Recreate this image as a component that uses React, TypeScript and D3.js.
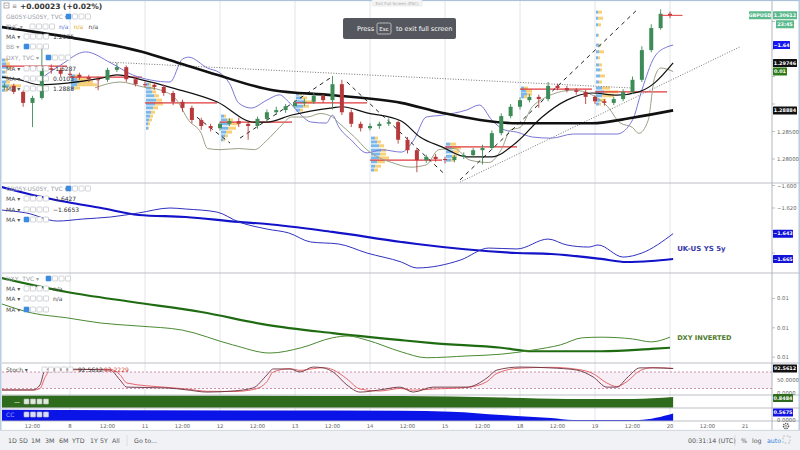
// GBPUSD 3h candles with yield-spread / DXY overlays, stacked indicator panes.
// JSX SVG, d3 only for scales + line/area generators. Layout numbers are panel
// rectangles; all marks go through the scales.
import * as d3 from "d3";

// ---------- price candles (3h bars, hour = 3 + 3*i from day-7 00:00) ----------
const firstOpen = 1.293;
const candleClose = [
  1.2933, 1.2922, 1.2902, 1.2911, 1.2965, 1.2962, 1.2955, 1.2953, 1.2949, 1.2945,
  1.2944, 1.2962, 1.2967, 1.2945, 1.2936, 1.2935, 1.2931, 1.292, 1.2904, 1.2893,
  1.2871, 1.286, 1.2856, 1.2864, 1.2869, 1.2864, 1.286, 1.2873, 1.2885, 1.2889,
  1.2896, 1.2902, 1.2904, 1.2915, 1.2907, 1.2936, 1.2885, 1.2864, 1.2856, 1.286,
  1.2864, 1.2867, 1.2835, 1.2816, 1.2798, 1.2804, 1.28, 1.2798, 1.2804, 1.2807,
  1.2816, 1.282, 1.2847, 1.2878, 1.2895, 1.2907, 1.2913, 1.2909, 1.2933, 1.2929,
  1.2925, 1.2922, 1.2913, 1.2905, 1.2902, 1.2909, 1.2922, 1.2944, 1.2998, 1.3038,
  1.3064, 1.30612,
];
const candleHigh = [
  1.2938, 1.2937, 1.2925, 1.2915, 1.3002, 1.2972, 1.2966, 1.296, 1.2957, 1.2953,
  1.295, 1.2966, 1.2975, 1.297, 1.2949, 1.2941, 1.2939, 1.2935, 1.2924, 1.2908,
  1.2897, 1.2875, 1.2864, 1.2868, 1.2874, 1.2875, 1.2868, 1.2877, 1.289, 1.2895,
  1.29, 1.2907, 1.291, 1.292, 1.2918, 1.2951, 1.2944, 1.289, 1.2868, 1.2865,
  1.2868, 1.2874, 1.287, 1.284, 1.282, 1.2808, 1.2809, 1.2804, 1.2808, 1.2812,
  1.282, 1.2826, 1.2852, 1.2883, 1.29, 1.2912, 1.2918, 1.2917, 1.294, 1.2937,
  1.2933, 1.2929, 1.2926, 1.2916, 1.2909, 1.2913, 1.2927, 1.295, 1.3005, 1.3045,
  1.3072, 1.3068,
];
const candleLow = [
  1.2926, 1.2918, 1.2895, 1.2858, 1.2908, 1.2955, 1.295, 1.2948, 1.2944, 1.294,
  1.2925, 1.294, 1.2958, 1.294, 1.2932, 1.293, 1.2926, 1.2915, 1.2898, 1.2886,
  1.2865, 1.2853, 1.285, 1.2852, 1.286, 1.2858, 1.2835, 1.2855, 1.287, 1.288,
  1.2884, 1.2892, 1.2896, 1.29, 1.2902, 1.289, 1.288, 1.2858, 1.285, 1.2852,
  1.2855, 1.286, 1.2828, 1.281, 1.2776, 1.2793, 1.2795, 1.2792, 1.2794, 1.28,
  1.2803, 1.279, 1.2817, 1.2843, 1.2874, 1.289, 1.2903, 1.2893, 1.2905, 1.2925,
  1.2921, 1.2917, 1.29, 1.29, 1.2897, 1.2898, 1.2905, 1.2918, 1.294, 1.2994,
  1.3035, 1.3056,
];

// ---------- moving averages on price ----------
const maSlowHours = [2, 23, 47, 58, 71, 89, 108, 130, 143, 167, 191, 204, 217];
const maSlowVals = [1.304, 1.3022, 1.2995, 1.2976, 1.2953, 1.2925, 1.2916, 1.2902, 1.2884, 1.2865, 1.2865, 1.2875, 1.28884];
const maFastHours = [2, 8, 14, 23, 34, 39, 47, 57, 71, 83, 87, 95, 108, 111, 119, 130, 136, 143, 151, 159, 167, 175, 183, 191, 199, 206, 211, 217];
const maFastVals = [
  1.2949, 1.2944, 1.2935, 1.2938, 1.2947, 1.2953, 1.2944, 1.2929, 1.2904, 1.2867,
  1.2867, 1.288, 1.2893, 1.2895, 1.2884, 1.2869, 1.284, 1.2822, 1.2804, 1.2804,
  1.2831, 1.2876, 1.2907, 1.292, 1.2916, 1.2922, 1.2938, 1.29746,
];

// ---------- overlays on the price pane (own scales) ----------
const spreadOvHours = [14, 21, 29, 37, 44, 50, 56, 60, 62, 68, 72, 75, 78, 82, 87, 91, 94, 98, 101, 106, 108, 110, 114, 119, 124, 130, 134, 138, 143, 151, 155, 159, 163, 167, 172, 178, 185, 199, 204, 207, 211, 215, 217];
const spreadOvVals = [
  -1.6527, -1.6487, -1.6452, -1.6481, -1.6513, -1.6527, -1.6532, -1.6471, -1.6466, -1.6495,
  -1.6508, -1.6535, -1.6588, -1.6601, -1.658, -1.6566, -1.6585, -1.662, -1.6638, -1.6641,
  -1.662, -1.6651, -1.6686, -1.672, -1.6712, -1.6718, -1.6686, -1.6625, -1.662, -1.6606,
  -1.6593, -1.6633, -1.6659, -1.6665, -1.6678, -1.6681, -1.667, -1.667, -1.6633, -1.6553,
  -1.6466, -1.6439, -1.6434,
];
const dxyOvHours = [32, 40, 47, 53, 58, 62, 66, 68, 72, 78, 83, 87, 91, 95, 100, 104, 108, 110, 115, 119, 123, 127, 133, 138, 142, 147, 152, 158, 162, 165, 168, 172, 175, 180, 185, 191, 196, 200, 204, 206, 209, 211, 213, 217];
const dxyOvVals = [
  96.81, 96.76, 96.8, 96.83, 96.91, 97.09, 97.2, 97.33, 97.34, 97.33,
  97.34, 97.26, 97.15, 97.06, 97.06, 97.03, 97.06, 97.11, 97.23, 97.34,
  97.41, 97.45, 97.49, 97.47, 97.34, 97.33, 97.43, 97.45, 97.34, 97.17,
  97.15, 96.97, 96.91, 96.85, 96.83, 96.87, 96.97, 97.11, 97.15, 97.2,
  97.09, 96.73, 96.64, 96.67,
];

// ---------- session volume profiles: [price, buy vol, sell vol] ----------
const profileStartHours = [0, 24, 48, 72, 96, 120, 144, 168, 192];
const profileRows: number[][][] = [
  [[1.298, 9, 3], [1.2973, 10, 4], [1.2967, 12, 5], [1.2958, 9, 2], [1.2949, 10, 2], [1.294, 10, 4], [1.2933, 13, 12], [1.2925, 9, 3]],
  [[1.2951, 4, 6], [1.2945, 6, 10], [1.294, 8, 14], [1.2935, 6, 20], [1.2929, 3, 6]],
  [[1.2936, 3, 2], [1.2929, 5, 3], [1.2922, 6, 4], [1.2915, 8, 5], [1.2907, 10, 6], [1.29, 9, 8], [1.2893, 7, 5], [1.2885, 5, 4], [1.2878, 4, 3], [1.2871, 3, 3], [1.2864, 2, 2], [1.2856, 2, 1]],
  [[1.2878, 3, 2], [1.2871, 6, 6], [1.2864, 8, 10], [1.2856, 7, 8], [1.2849, 5, 6], [1.2842, 4, 3], [1.2835, 2, 2]],
  [[1.2918, 3, 3], [1.2911, 6, 5], [1.2904, 8, 8], [1.2896, 7, 6], [1.2889, 4, 3]],
  [[1.2838, 4, 3], [1.2831, 6, 4], [1.2824, 8, 5], [1.2816, 10, 5], [1.2809, 9, 6], [1.2802, 8, 10], [1.2795, 6, 8], [1.2787, 4, 6], [1.278, 3, 4]],
  [[1.2827, 4, 6], [1.282, 6, 9], [1.2813, 7, 6], [1.2805, 6, 5], [1.2798, 5, 4]],
  [[1.2929, 3, 4], [1.2924, 5, 6], [1.2918, 6, 5], [1.2913, 3, 3]],
  [[1.3067, 2, 4], [1.3056, 2, 5], [1.3044, 2, 3], [1.3025, 2, 1], [1.3007, 3, 2], [1.2995, 3, 5], [1.2984, 2, 2], [1.2971, 3, 3], [1.2962, 4, 2], [1.2951, 4, 5], [1.294, 3, 3], [1.2929, 6, 8], [1.2922, 8, 14], [1.2915, 6, 12], [1.2907, 4, 6], [1.29, 3, 2]],
];
const pocPrices = [1.2969, 1.2949, 1.2902, 1.2867, 1.2902, 1.2798, 1.2822, 1.2927, 1.2922];

// drawn trend lines: [hour1, price1, hour2, price2]
const dashedTrends = [
  [64.6, 1.2876, 75.2, 1.2829],
  [78.4, 1.2838, 107.2, 1.2947],
  [112.6, 1.294, 143.4, 1.2775],
  [148.8, 1.2762, 205.4, 1.3071],
];
const dottedTrends = [
  [36.8, 1.2976, 204.2, 1.2929],
  [148.8, 1.2758, 238.4, 1.3004],
];
const priceTicks = [1.28, 1.285, 1.29, 1.295, 1.3, 1.305];

// ---------- GB05Y-US05Y pane ----------
const spreadMaHours = [2, 12, 23, 34, 46, 61, 78, 87, 108, 130, 135, 167, 178, 194, 202, 210, 217];
const spreadMaVals = [-1.6013, -1.6084, -1.6147, -1.62, -1.6262, -1.628, -1.6324, -1.6342, -1.6413, -1.6502, -1.652, -1.66, -1.6609, -1.6653, -1.668, -1.6671, -1.6653];
const spreadHours = [2, 10, 20, 28, 37, 46, 56, 61, 71, 78, 87, 94, 101, 110, 119, 130, 135, 149, 158, 167, 177, 183, 190, 193, 201, 207, 217];
const spreadVals = [
  -1.6218, -1.6244, -1.6316, -1.6298, -1.628, -1.6244, -1.62, -1.6209, -1.6236, -1.6324,
  -1.6387, -1.6422, -1.6502, -1.652, -1.66, -1.668, -1.6733, -1.6662, -1.6556, -1.6564,
  -1.6476, -1.6529, -1.6547, -1.6529, -1.6636, -1.66, -1.6428,
];
const spreadTicks = [-1.6, -1.62, -1.64, -1.66];

// ---------- DXY (inverted) pane ----------
const dxyMaHours = [2, 23, 44, 66, 87, 108, 130, 140, 162, 172, 194, 210, 216];
const dxyMaVals = [96.05, 96.29, 96.46, 96.63, 96.85, 96.99, 97.11, 97.16, 97.24, 97.3, 97.3, 97.26, 97.24];
const dxyHours = [2, 12, 23, 34, 46, 60, 76, 88, 98, 108, 113, 119, 130, 138, 151, 162, 172, 181, 188, 194, 204, 210, 216];
const dxyVals = [96.49, 96.65, 96.73, 96.82, 96.87, 96.94, 97.19, 97.33, 97.24, 97.07, 97.04, 97.11, 97.31, 97.41, 97.38, 97.35, 97.28, 97.19, 97.07, 97.06, 97.09, 97.14, 97.06];
const dxyTicks = [96.4, 96.9, 97.4];

// ---------- stochastic ----------
const stochHours = [1.6, 12.2, 14.4, 16, 17.6, 36.8, 40, 42.2, 55, 61.4, 67.8, 76.2, 82.6, 87, 89, 94.4, 97.6, 101.8, 105, 108.2, 112.6, 116.8, 123.2, 129.6, 133.8, 140.2, 151, 157.4, 160.6, 168, 177.6, 186.2, 191.4, 195.8, 199, 202.2, 206.4, 210.6, 217];
const stochK = [14, 15, 33, 87, 91, 87, 51, 25, 22, 15, 7, 11, 22, 69, 91, 91, 80, 98, 95, 80, 33, 7, 15, 25, 7, 25, 25, 58, 87, 98, 95, 87, 62, 25, 25, 58, 95, 95, 92.5612];
const stochD = [16, 14, 20, 60, 84, 90, 70, 40, 24, 18, 10, 9, 16, 45, 80, 92, 86, 92, 96, 88, 55, 18, 11, 20, 14, 18, 24, 45, 75, 94, 97, 90, 74, 40, 27, 45, 85, 96, 93.2229];

// ---------- bottom correlation strips ----------
const corrAHours = [2, 130, 162, 183, 204, 217];
const corrAVals = [0.97, 0.92, 0.8, 0.7, 0.7, 0.8484];
const corrBHours = [2, 87, 130, 146, 162, 178, 185, 206, 217];
const corrBVals = [0.86, 0.8, 0.78, 0.72, 0.46, 0.23, 0.08, 0.08, 0.5675];

// ---------- time axis ----------
const dayLabels = ["8", "11", "12", "13", "14", "15", "18", "19", "20", "21"];
const rangeButtons = ["1D", "5D", "1M", "3M", "6M", "YTD", "1Y", "5Y", "All"];

type Pt = [number, number];
const zip = (h: number[], v: number[]): Pt[] => h.map((t, i) => [t, v[i]]);
const last = (a: number[]) => a[a.length - 1];

const FONT = "'DejaVu Sans', 'Liberation Sans', sans-serif";
const PL = 2;
const PR = 772;
const UP = "#3d8b57";
const DOWN = "#b8393b";

function Icons({ x, y, n = 4, blue = false, light = false }: { x: number; y: number; n?: number; blue?: boolean; light?: boolean }) {
  return (
    <g>
      {d3.range(n).map((k) => (
        <rect
          key={k}
          x={x + k * 6.5}
          y={y - 5}
          width={5}
          height={5}
          rx={0.6}
          fill={k === 0 && blue ? "#3c8be0" : light ? "rgba(255,255,255,0.85)" : "#fff"}
          stroke={k === 0 && blue ? "#3c8be0" : "#b5b9c0"}
          strokeWidth={0.6}
        />
      ))}
    </g>
  );
}

function LegendRow({ y, label, iconX, blue, vals = [], color = "#555" }: { y: number; label: string; iconX: number; blue?: boolean; vals?: [string, string][]; color?: string }) {
  let vx = iconX + 4 * 6.5 + 3;
  return (
    <g fontFamily={FONT} fontSize={6}>
      <text x={6} y={y} fill={color}>{label}</text>
      <Icons x={iconX} y={y} blue={blue} />
      {vals.map(([t, c], i) => {
        const tx = vx;
        vx += t.length * 3.6 + 4;
        return (
          <text key={i} x={tx} y={y} fill={c}>{t}</text>
        );
      })}
    </g>
  );
}

function Badge({ x, y, w, text, fill }: { x: number; y: number; w: number; text: string; fill: string }) {
  return (
    <g>
      <rect x={x} y={y - 4} width={w} height={8} fill={fill} rx={0.5} />
      <text x={x + w / 2} y={y + 1.8} textAnchor="middle" fontSize={4.9} fontWeight="bold" fill="#fff" fontFamily={FONT}>{text}</text>
    </g>
  );
}

export default function App() {
  const x = d3.scaleLinear().domain([0, 240]).range([-5, 745]);
  const yPrice = d3.scaleLinear().domain([1.275, 1.3]).range([186.5, 49]);
  const ySpreadOv = d3.scaleLinear().domain([-1.68, -1.64]).range([183, 32.3]);
  const yDxyOv = d3.scaleLinear().domain([96.4, 97.6]).range([40, 180]);
  const ySpread = d3.scaleLinear().domain([-1.6, -1.66]).range([185.5, 253]);
  const yDxy = d3.scaleLinear().domain([96.0, 97.5]).range([275, 363]);
  const yStoch = d3.scaleLinear().domain([0, 100]).range([394, 366.5]);
  const yCorrA = d3.scaleLinear().domain([0, 1]).range([408, 395]);
  const yCorrB = d3.scaleLinear().domain([0, 1]).range([421, 408]);
  const vol = d3.scaleLinear().domain([0, 10]).range([0, 10]);

  const line = (ys: d3.ScaleLinear<number, number>) =>
    d3.line<Pt>().x((d) => x(d[0])).y((d) => ys(d[1])).curve(d3.curveMonotoneX);
  const area = (ys: d3.ScaleLinear<number, number>, base: number) =>
    d3.area<Pt>().x((d) => x(d[0])).y0(base).y1((d) => ys(d[1])).curve(d3.curveMonotoneX);

  const candles = candleClose.map((c, i) => ({
    t: 3 + 3 * i,
    o: i === 0 ? firstOpen : candleClose[i - 1],
    c,
    h: candleHigh[i],
    l: candleLow[i],
  }));
  const dayStarts = d3.range(24, 217, 24);
  const timeTicks = d3.range(12, 241, 12);
  const fmtP = d3.format(".5f");
  const panels = [
    ["p1", 0, 183],
    ["p2", 183, 273],
    ["p3", 273, 363],
    ["p4", 363, 395],
    ["p5", 395, 408],
    ["p6", 408, 421],
  ] as const;
  const lastT = last(maFastHours);

  // badge centres on the right axis: tick labels under a badge are hidden, like the reference
  const badgeYs = [
    yPrice(last(candleClose)),
    yPrice(last(candleClose)) + 9,
    ySpreadOv(last(spreadOvVals)),
    yPrice(last(maFastVals)),
    yDxyOv(last(dxyOvVals)),
    yPrice(last(maSlowVals)),
    ySpread(last(spreadVals)),
    ySpread(last(spreadMaVals)),
    yStoch(last(stochK)),
    yCorrA(last(corrAVals)) + 1,
    yCorrB(last(corrBVals)) - 1,
  ];
  const free = (y: number) => badgeYs.every((b) => Math.abs(b - y) > 6.5);

  return (
    <div style={{ width: 800, height: 450 }}>
      <style>{`body{margin:0;background:#fff}svg{display:block}`}</style>
      <svg width={800} height={450} viewBox="0 0 800 450" fontFamily={FONT}>
        <defs>
          {panels.map(([id, y0, y1]) => (
            <clipPath id={`clip-${id}`} key={id}>
              <rect x={PL} y={y0} width={PR - PL} height={y1 - y0} />
            </clipPath>
          ))}
        </defs>
        <rect width={800} height={450} fill="#fff" />

        {/* session grid */}
        {dayStarts.map((t) => (
          <line key={t} x1={x(t)} x2={x(t)} y1={0} y2={421} stroke="#dde1e8" strokeWidth={0.9} />
        ))}

        {/* ================= price pane ================= */}
        <g clipPath="url(#clip-p1)">
          {/* volume profiles */}
          {profileStartHours.map((h, k) => (
            <g key={h}>
              {profileRows[k].map(([p, b, s], j) => (
                <g key={j}>
                  <rect x={x(h) + 1} y={yPrice(p) - 1.5} width={vol(b)} height={3} fill="#4d9fe3" opacity={0.75} />
                  <rect x={x(h) + 1 + vol(b)} y={yPrice(p) - 1.5} width={vol(s)} height={3} fill="#f4c04e" opacity={0.75} />
                </g>
              ))}
            </g>
          ))}
          {/* POC lines */}
          {profileStartHours.map((h, k) => (
            <line key={h} x1={x(h)} x2={x(h + 24) - 3} y1={yPrice(pocPrices[k])} y2={yPrice(pocPrices[k])} stroke="#e0393b" strokeWidth={1.3} />
          ))}

          {/* overlays */}
          <path d={line(ySpreadOv)(zip(spreadOvHours, spreadOvVals)) ?? ""} fill="none" stroke="#7b78d6" strokeWidth={1} />
          <path d={line(yDxyOv)(zip(dxyOvHours, dxyOvVals)) ?? ""} fill="none" stroke="#9a9f86" strokeWidth={1} />

          {/* trend drawings */}
          {dottedTrends.map(([t1, p1, t2, p2], i) => (
            <line key={i} x1={x(t1)} y1={yPrice(p1)} x2={x(t2)} y2={yPrice(p2)} stroke="#666" strokeWidth={0.9} strokeDasharray="1 1.6" />
          ))}
          {dashedTrends.map(([t1, p1, t2, p2], i) => (
            <line key={i} x1={x(t1)} y1={yPrice(p1)} x2={x(t2)} y2={yPrice(p2)} stroke="#222" strokeWidth={1} strokeDasharray="4 4" />
          ))}

          {/* moving averages */}
          <path d={line(yPrice)(zip(maSlowHours, maSlowVals)) ?? ""} fill="none" stroke="#111" strokeWidth={2.6} />
          <path d={line(yPrice)(zip(maFastHours, maFastVals)) ?? ""} fill="none" stroke="#111" strokeWidth={1.2} />

          {/* candles */}
          {candles.map((d) => {
            const col = d.c >= d.o ? UP : DOWN;
            const top = yPrice(Math.max(d.o, d.c));
            const bot = yPrice(Math.min(d.o, d.c));
            return (
              <g key={d.t}>
                <line x1={x(d.t)} x2={x(d.t)} y1={yPrice(d.h)} y2={yPrice(d.l)} stroke={col} strokeWidth={0.9} />
                <rect x={x(d.t) - 2} y={top} width={4} height={Math.max(1, bot - top)} fill={col} />
              </g>
            );
          })}
          <line x1={x(lastT - 4)} x2={x(lastT + 3)} y1={yPrice(last(candleClose))} y2={yPrice(last(candleClose))} stroke="#e0393b" strokeWidth={1} />
        </g>

        {/* ================= spread pane ================= */}
        <g clipPath="url(#clip-p2)">
          <path d={line(ySpread)(zip(spreadMaHours, spreadMaVals)) ?? ""} fill="none" stroke="#1212c8" strokeWidth={2.2} />
          <path d={line(ySpread)(zip(spreadHours, spreadVals)) ?? ""} fill="none" stroke="#3030c0" strokeWidth={1} />
        </g>
        <text x={x(lastT) + 4} y={ySpread(-1.656) + 2.5} fontSize={7} fontWeight="bold" fill="#3a3aa8">UK-US YS 5y</text>

        {/* ================= DXY pane ================= */}
        <g clipPath="url(#clip-p3)">
          <path d={line(yDxy)(zip(dxyMaHours, dxyMaVals)) ?? ""} fill="none" stroke="#1f6b12" strokeWidth={2.2} />
          <path d={line(yDxy)(zip(dxyHours, dxyVals)) ?? ""} fill="none" stroke="#4a8a32" strokeWidth={1} />
        </g>
        <text x={x(lastT) + 4} y={yDxy(97.06) + 2.5} fontSize={6.6} fontWeight="bold" fill="#4d7a2b">DXY INVERTED</text>

        {/* ================= stochastic ================= */}
        <g clipPath="url(#clip-p4)">
          <rect x={PL} y={yStoch(80)} width={PR - PL} height={yStoch(20) - yStoch(80)} fill="#f7eef6" />
          {[80, 20].map((v) => (
            <line key={v} x1={PL} x2={PR} y1={yStoch(v)} y2={yStoch(v)} stroke="#c27a96" strokeWidth={0.8} strokeDasharray="2 2" />
          ))}
          <path d={line(yStoch)(zip(stochHours, stochD)) ?? ""} fill="none" stroke="#e0585a" strokeWidth={0.9} />
          <path d={line(yStoch)(zip(stochHours, stochK)) ?? ""} fill="none" stroke="#6b3040" strokeWidth={0.9} />
        </g>

        {/* ================= correlation strips ================= */}
        <g clipPath="url(#clip-p5)">
          <path d={area(yCorrA, yCorrA(0.02))(zip(corrAHours, corrAVals)) ?? ""} fill="#2f6b1c" />
        </g>
        <g clipPath="url(#clip-p6)">
          <path d={area(yCorrB, yCorrB(0))(zip(corrBHours, corrBVals)) ?? ""} fill="#0a14e6" />
        </g>

        {/* pane separators & frame */}
        {[183, 273, 363, 395, 408, 421].map((y) => (
          <line key={y} x1={PL} x2={800} y1={y} y2={y} stroke="#b4b8bf" strokeWidth={0.9} />
        ))}
        <line x1={PR} x2={PR} y1={0} y2={430} stroke="#a9adb5" strokeWidth={0.9} />
        <rect x={0.8} y={0.5} width={798.4} height={430} fill="none" stroke="#a9c1d9" strokeWidth={1.2} />

        {/* ================= legends ================= */}
        <g fontFamily={FONT}>
          <rect x={4} y={3} width={5} height={5} fill="none" stroke="#777" strokeWidth={0.6} />
          <line x1={5.5} x2={7.5} y1={5.5} y2={5.5} stroke="#777" strokeWidth={0.6} />
          <text x={12} y={8} fontSize={6} fill="#777">≡</text>
          <text x={20} y={8.5} fontSize={7.5} fontWeight="bold" fill="#333">+0.00023 (+0.02%)</text>
        </g>
        <LegendRow y={19} label="GB05Y-US05Y, TVC ▾" iconX={66} blue color="#9aa0a8" />
        <LegendRow y={29} label="TVC ▾" iconX={30} color="#9aa0a8" vals={[["n/a", "#5b6fd6"], ["n/a", "#e0aa10"], ["n/a", "#444"]]} />
        <LegendRow y={39} label="MA ▾" iconX={24} vals={[[d3.format(".4f")(last(maFastVals)), "#333"]]} />
        <LegendRow y={49} label="BB ▾" iconX={24} blue color="#9aa0a8" />
        <LegendRow y={60} label="DXY, TVC ▾" iconX={46} blue color="#9aa0a8" />
        <LegendRow y={71} label="MA ▾" iconX={24} vals={[["-1.6287", "#333"]]} />
        <LegendRow y={81} label="MA ▾" iconX={24} vals={[["0.0103", "#333"]]} />
        <LegendRow y={91} label="MA ▾" iconX={24} vals={[[d3.format(".4f")(last(maSlowVals)), "#333"]]} />

        <LegendRow y={191} label="GB05Y-US05Y, TVC ▾" iconX={66} blue color="#9aa0a8" />
        <LegendRow y={201} label="MA ▾" iconX={24} vals={[["-1.6427", "#333"]]} />
        <LegendRow y={212} label="MA ▾" iconX={24} vals={[[d3.format(".4f")(last(spreadMaVals)), "#333"]]} />
        <LegendRow y={222} label="MA ▾" iconX={24} blue />

        <LegendRow y={281} label="DXY, TVC ▾" iconX={46} blue color="#9aa0a8" />
        <LegendRow y={291} label="MA ▾" iconX={24} vals={[["n/a", "#444"]]} />
        <LegendRow y={301} label="MA ▾" iconX={24} vals={[["n/a", "#444"]]} />
        <LegendRow y={312} label="MA ▾" iconX={24} blue />

        <g fontFamily={FONT} fontSize={6}>
          <text x={6} y={372} fill="#555">Stoch ▾</text>
          <Icons x={42} y={372} n={5} />
          <text x={78} y={372} fill="#333">{d3.format(".4f")(last(stochK))}</text>
          <text x={104} y={372} fill="#d23a3a">{d3.format(".4f")(last(stochD))}</text>
          <text x={14} y={404} fill="#fff">—</text>
          <Icons x={24} y={404} light />
          <text x={6} y={417} fill="#9fa6ff">CC</text>
          <Icons x={24} y={417} light />
        </g>

        {/* ================= right axis ================= */}
        <g fontSize={5.3} fill="#666" fontFamily={FONT}>
          {priceTicks.map((p) => (
            <g key={p}>
              <line x1={PR} x2={PR + 3} y1={yPrice(p)} y2={yPrice(p)} stroke="#999" strokeWidth={0.6} />
              {free(yPrice(p)) && <text x={PR + 5} y={yPrice(p) + 2}>{fmtP(p)}</text>}
            </g>
          ))}
          {spreadTicks.map((v) => (
            <g key={v}>
              <line x1={PR} x2={PR + 3} y1={ySpread(v)} y2={ySpread(v)} stroke="#999" strokeWidth={0.6} />
              {free(ySpread(v)) && <text x={PR + 5} y={ySpread(v) + 2}>{d3.format(".3f")(v)}</text>}
            </g>
          ))}
          {dxyTicks.map((v) => (
            <g key={v}>
              <line x1={PR} x2={PR + 3} y1={yDxy(v)} y2={yDxy(v)} stroke="#999" strokeWidth={0.6} />
              <text x={PR + 5} y={yDxy(v) + 2}>{d3.format(".2f")(1 / v)}</text>
            </g>
          ))}
          <text x={PR + 5} y={yStoch(50) + 2}>50.0000</text>
          <text x={PR + 5} y={yStoch(0) + 0.5}>0.0000</text>
          <text x={PR + 5} y={yCorrB(0) + 0.5}>0.0000</text>
        </g>

        <Badge x={749} y={badgeYs[0]} w={22} text="GBPUSD" fill="#5bb98c" />
        <Badge x={773} y={badgeYs[0]} w={24} text={fmtP(last(candleClose))} fill="#5bb98c" />
        <Badge x={776} y={badgeYs[1]} w={18} text="23:45" fill="#5bb98c" />
        <Badge x={773} y={badgeYs[2]} w={17} text={d3.format(".2f")(last(spreadOvVals))} fill="#1616ee" />
        <Badge x={773} y={badgeYs[3]} w={24} text={fmtP(last(maFastVals))} fill="#111" />
        <Badge x={773} y={badgeYs[4]} w={14} text={d3.format(".2f")(1 / last(dxyOvVals))} fill="#2f7a19" />
        <Badge x={773} y={badgeYs[5]} w={24} text={fmtP(last(maSlowVals))} fill="#111" />
        <Badge x={773} y={badgeYs[6]} w={20} text={d3.format(".3f")(last(spreadVals))} fill="#1212d8" />
        <Badge x={773} y={badgeYs[7]} w={20} text={d3.format(".3f")(last(spreadMaVals))} fill="#1212d8" />
        <Badge x={773} y={badgeYs[8]} w={24} text={d3.format(".4f")(last(stochK))} fill="#111" />
        <Badge x={773} y={badgeYs[9]} w={20} text={d3.format(".4f")(last(corrAVals))} fill="#2f6b1c" />
        <Badge x={773} y={badgeYs[10]} w={20} text={d3.format(".4f")(last(corrBVals))} fill="#1414e0" />

        {/* ================= time axis ================= */}
        <g fontSize={5.3} fill="#666" textAnchor="middle" fontFamily={FONT}>
          {timeTicks.map((t) => (
            <text key={t} x={x(t)} y={428}>{t % 24 === 12 ? "12:00" : dayLabels[t / 24 - 1]}</text>
          ))}
        </g>
        <circle cx={786} cy={426} r={2.6} fill="none" stroke="#555" strokeWidth={1.4} strokeDasharray="1.3 0.9" />
        <circle cx={786} cy={426} r={1} fill="none" stroke="#555" strokeWidth={0.5} />

        {/* ================= full-screen hint ================= */}
        <rect x={372} y={-1} width={50} height={7} rx={1} fill="#f4f4f4" stroke="#ddd" strokeWidth={0.5} />
        <text x={397} y={4.5} fontSize={4} fill="#aaa" textAnchor="middle">Exit Full Screen (ESC)</text>
        <rect x={343} y={18} width={113} height={21} rx={2} fill="#4b4f55" opacity={0.95} />
        <text x={357} y={31} fontSize={6.5} fill="#fff">Press</text>
        <rect x={377} y={23} width={14} height={11} rx={1.5} fill="none" stroke="#ddd" strokeWidth={0.7} />
        <text x={384} y={31} fontSize={5.5} fill="#fff" textAnchor="middle">Esc</text>
        <text x={396} y={31} fontSize={6.5} fill="#fff">to exit full screen</text>

        {/* ================= bottom toolbar ================= */}
        <rect x={0} y={430} width={800} height={20} fill="#f0f2f5" />
        <line x1={0} x2={800} y1={430.5} y2={430.5} stroke="#cfd4da" strokeWidth={0.8} />
        <g fontSize={6.3} fill="#555" fontFamily={FONT}>
          {rangeButtons.map((b, i) => (
            <text key={b} x={[8, 19, 31, 45, 59, 72, 90, 100, 112][i]} y={443}>{b}</text>
          ))}
          <line x1={127} x2={127} y1={435} y2={446} stroke="#ccc" strokeWidth={0.6} />
          <text x={134} y={443}>Go to...</text>
          <text x={688} y={443}>00:31:14 (UTC)</text>
          <line x1={735} x2={735} y1={435} y2={446} stroke="#ccc" strokeWidth={0.6} />
          <text x={741} y={443}>%</text>
          <text x={752} y={443}>log</text>
          <text x={767} y={443} fill="#3b82e0">auto</text>
          <rect x={783} y={436} width={7} height={7} fill="none" stroke="#aaa" strokeWidth={0.7} strokeDasharray="2 1.5" />
        </g>
      </svg>
    </div>
  );
}
